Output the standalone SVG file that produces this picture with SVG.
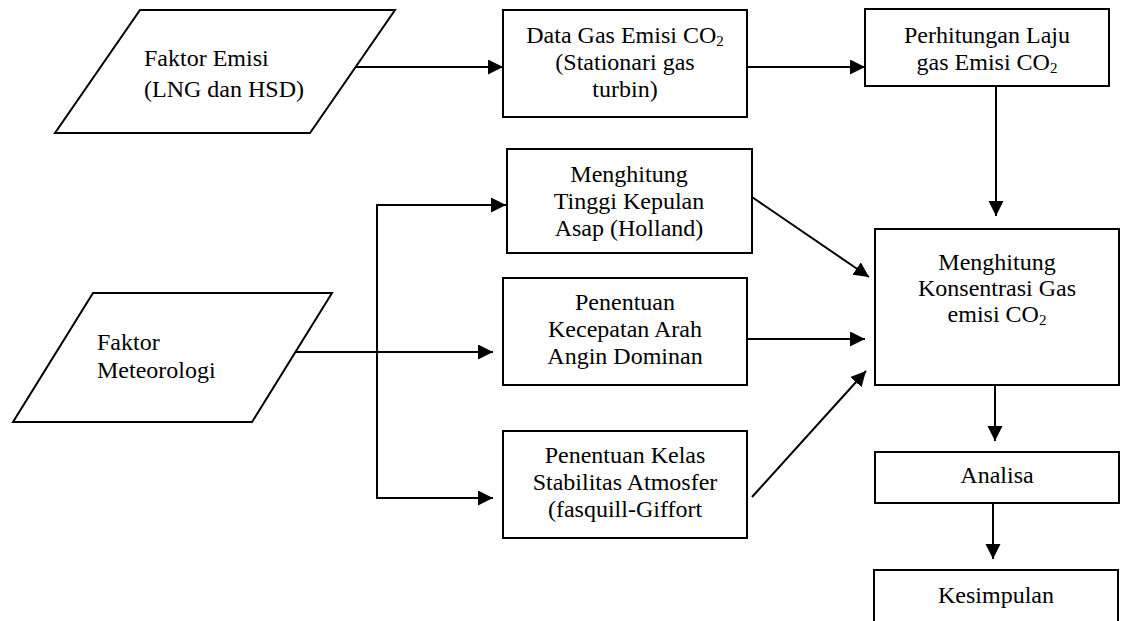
<svg xmlns="http://www.w3.org/2000/svg" width="1127" height="621" viewBox="0 0 1127 621">
<defs>
<marker id="arr" markerUnits="userSpaceOnUse" markerWidth="16" markerHeight="16" refX="15" refY="7.5" orient="auto">
<path d="M0,0 L15,7.5 L0,15 z" fill="#000"/>
</marker>
<style>
.shape{fill:#fff;stroke:#000;stroke-width:2}
.conn{fill:none;stroke:#000;stroke-width:2}
.arrow{marker-end:url(#arr)}
text{font-family:"Liberation Serif","Times New Roman",serif;font-size:24px;fill:#000}
.c{text-anchor:middle}
.sub{font-size:15px}
</style>
</defs>
<rect width="1127" height="621" fill="#fff"/>

<g id="connectors">
<line class="conn arrow" x1="356" y1="67" x2="503" y2="67"/>
<line class="conn arrow" x1="747" y1="67" x2="865" y2="67"/>
<line class="conn arrow" x1="996" y1="86" x2="996" y2="216"/>
<polyline class="conn" points="505,205 377,205 377,498 493,498" style="marker-end:none"/>
<line class="conn arrow" x1="377" y1="205" x2="506" y2="205"/>
<line class="conn arrow" x1="377" y1="498" x2="493" y2="498"/>
<line class="conn arrow" x1="295" y1="352" x2="493" y2="352"/>
<line class="conn arrow" x1="752" y1="197" x2="869" y2="277"/>
<line class="conn arrow" x1="747" y1="339" x2="865" y2="339"/>
<line class="conn arrow" x1="752" y1="497" x2="866" y2="371"/>
<line class="conn arrow" x1="995" y1="385" x2="995" y2="441"/>
<line class="conn arrow" x1="993" y1="503" x2="993" y2="559"/>
</g>

<g id="faktor-emisi">
<polygon class="shape" points="140,10 395,10 310,133 55,133"/>
<text x="144" y="66">Faktor Emisi</text>
<text x="144" y="97">(LNG dan HSD)</text>
</g>

<g id="data-gas">
<rect class="shape" x="503" y="10" width="244" height="107"/>
<text class="c" x="625" y="43">Data Gas Emisi CO<tspan class="sub" dy="3">2</tspan></text>
<text class="c" x="625" y="70">(Stationari gas</text>
<text class="c" x="625" y="97">turbin)</text>
</g>

<g id="perhitungan-laju">
<rect class="shape" x="865" y="9" width="244" height="77"/>
<text class="c" x="987" y="43">Perhitungan Laju</text>
<text class="c" x="987" y="70">gas Emisi CO<tspan class="sub" dy="3">2</tspan></text>
</g>

<g id="tinggi-kepulan">
<rect class="shape" x="507" y="149" width="245" height="104"/>
<text class="c" x="629" y="182">Menghitung</text>
<text class="c" x="629" y="209">Tinggi Kepulan</text>
<text class="c" x="629" y="236">Asap (Holland)</text>
</g>

<g id="faktor-meteorologi">
<polygon class="shape" points="93,293 332,293 252,422 13,422"/>
<text x="97" y="350">Faktor</text>
<text x="97" y="378">Meteorologi</text>
</g>

<g id="kecepatan-angin">
<rect class="shape" x="503" y="278" width="244" height="107"/>
<text class="c" x="625" y="310">Penentuan</text>
<text class="c" x="625" y="337">Kecepatan Arah</text>
<text class="c" x="625" y="364">Angin Dominan</text>
</g>

<g id="kelas-stabilitas">
<rect class="shape" x="503" y="431" width="244" height="107"/>
<text class="c" x="625" y="463">Penentuan Kelas</text>
<text class="c" x="625" y="490">Stabilitas Atmosfer</text>
<text class="c" x="625" y="517">(fasquill-Giffort</text>
</g>

<g id="konsentrasi">
<rect class="shape" x="875" y="229" width="244" height="156"/>
<text class="c" x="997" y="270">Menghitung</text>
<text class="c" x="997" y="296">Konsentrasi Gas</text>
<text class="c" x="997" y="322">emisi CO<tspan class="sub" dy="3">2</tspan></text>
</g>

<g id="analisa">
<rect class="shape" x="875" y="452" width="244" height="51"/>
<text class="c" x="997" y="483">Analisa</text>
</g>

<g id="kesimpulan">
<rect class="shape" x="874" y="570" width="244" height="80"/>
<text class="c" x="996" y="603">Kesimpulan</text>
</g>
</svg>
